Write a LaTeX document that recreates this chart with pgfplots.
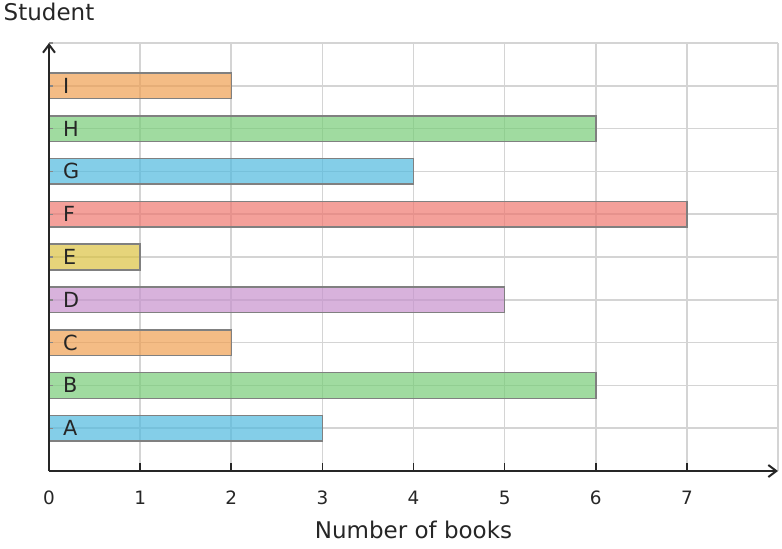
\documentclass[border=0pt]{standalone}
\usepackage{fontspec}
\setmainfont{DejaVu Sans}
\usepackage{pgfplots}
\pgfplotsset{compat=1.18}
\usetikzlibrary{arrows.meta}
\definecolor{cblue}{HTML}{50B9DE}
\definecolor{cgreen}{HTML}{77CC77}
\definecolor{corange}{HTML}{EF9F51}
\definecolor{cpurple}{HTML}{C792CD}
\definecolor{cyellow}{HTML}{DBC241}
\definecolor{cred}{HTML}{EF776F}
\definecolor{txt}{HTML}{262626}
\definecolor{gridc}{HTML}{D4D4D4}
\definecolor{edgec}{HTML}{808080}
\pgfplotsset{
  layers/barsbelow/.define layer set={
    axis background,axis grid,main,axis ticks,axis lines,
    axis tick labels,axis descriptions,axis foreground
  }{/pgfplots/layers/standard},
  mybar/.style={xbar, bar width=0.6, bar shift=0pt, fill=#1, fill opacity=0.7,
    draw=edgec, line width=0.75pt},
}
\begin{document}
\begin{tikzpicture}
\begin{axis}[
  set layers=barsbelow,
  name=ax,
  width=364.5pt, height=214pt, scale only axis,
  xmin=0, xmax=8, ymin=0, ymax=10,
  axis lines=left,
  axis line style={draw=txt, line width=1pt, -{Straight Barb[length=4pt,width=6pt]}},
  xtick={0,1,2,3,4,5,6,7},
  extra x ticks={8}, extra x tick labels={},
  extra x tick style={major tick length=0pt},
  ytick={1,2,3,4,5,6,7,8,9}, yticklabels={},
  extra y ticks={10}, extra y tick labels={},
  extra y tick style={major tick length=0pt},
  tick align=inside,
  major tick length=4pt,
  tick style={draw=txt, line width=0.8pt},
  y tick style={draw=txt!55, line width=0.7pt, /pgfplots/major tick length=2pt},
  grid=major,
  grid style={draw=gridc, line width=0.8pt},
  /pgf/number format/assume math mode=true,
  tick label style={font=\fontsize{9.2}{11}\selectfont, text=txt},
  xticklabel shift=6.3pt,
  label style={font=\fontsize{11.5}{13}\selectfont, text=txt},
  xlabel={Number of books},
  xlabel style={at={(axis description cs:0.5,0)}, anchor=base, yshift=-33.5pt},
  ylabel={Student},
  ylabel style={rotate=-90, at={(axis description cs:0,1)}, anchor=base, yshift=11.25pt},
]
\addplot[mybar=cblue] coordinates {(3,1) (4,7)};
\addplot[mybar=cgreen] coordinates {(6,2) (6,8)};
\addplot[mybar=corange] coordinates {(2,3) (2,9)};
\addplot[mybar=cpurple] coordinates {(5,4)};
\addplot[mybar=cyellow] coordinates {(1,5)};
\addplot[mybar=cred] coordinates {(7,6)};
\addplot[only marks, mark=none, nodes near coords, point meta=explicit symbolic,
  nodes near coords style={anchor=west, inner sep=0pt, font=\fontsize{10.4}{12}\selectfont, text=txt}]
  table[meta=lab] {
x y lab
0.15 1 A
0.15 2 B
0.15 3 C
0.15 4 D
0.15 5 E
0.15 6 F
0.15 7 G
0.15 8 H
0.15 9 I
};
\end{axis}
\pgfresetboundingbox
\path[use as bounding box] ([shift={(-24.5pt,-38.5pt)}]ax.south west) rectangle ([shift={(2pt,21.5pt)}]ax.north east);
\end{tikzpicture}
\end{document}
